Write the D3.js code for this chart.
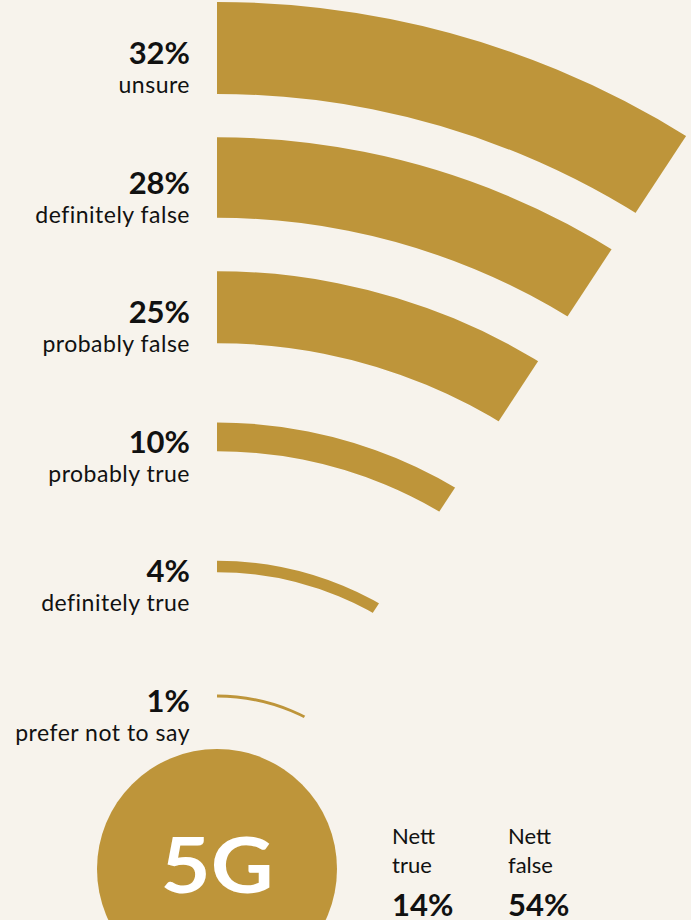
<!DOCTYPE html>
<html lang="en">
<head>
  <meta charset="UTF-8">
  <title>5G</title>
  <script src="https://cdn.jsdelivr.net/npm/d3@7"></script>
  <style>
    body { margin: 0; background: #f7f3ec; }
    text { font-family: Lato, "Noto Sans", sans-serif; fill: #111; }
  </style>
</head>
<body>
  <svg width="691" height="920"></svg>
  <script>
    // answers, outermost arc first
    var categories = ['unsure', 'definitely false', 'probably false', 'probably true', 'definitely true', 'prefer not to say'];
    var values = [32, 28, 25, 10, 4, 1];
    var nettLabels = [['Nett', 'true'], ['Nett', 'false']];
    var nettValues = [14, 54];

    var gold = '#be953a';
    var svg = d3.select('svg');
    var width = +svg.attr('width');
    var height = +svg.attr('height');

    svg.append('rect').attr('width', width).attr('height', height).attr('fill', '#f7f3ec');

    var cx = 217, cy = 890;
    var data = categories.map(function(c, i) { return {cat: c, v: values[i]}; });

    // radius of each band centre, thickness from the value
    var rScale = d3.scalePoint().domain(categories).range([842, 194]);
    var wScale = d3.scaleLinear().domain([0, 32]).range([0, 92]);

    var chart = svg.append('g').attr('transform', 'translate(' + cx + ',' + cy + ')');

    // arcs all end on one slanted line
    var cutAngle = 33.3 * Math.PI / 180;
    var apex = [0, -40];
    svg.append('clipPath').attr('id', 'wedge')
      .append('polygon')
      .attr('points', [
        apex,
        [0, -cy - 20],
        [apex[0] + 1400 * Math.sin(cutAngle), apex[1] - 1400 * Math.cos(cutAngle)]
      ].map(function(p) { return p.join(','); }).join(' '));

    var arc = d3.arc()
      .innerRadius(function(d) { return rScale(d.cat) - wScale(d.v) / 2; })
      .outerRadius(function(d) { return rScale(d.cat) + wScale(d.v) / 2; })
      .startAngle(0)
      .endAngle(45 * Math.PI / 180);

    chart.append('g').attr('clip-path', 'url(#wedge)')
      .selectAll('path').data(data).enter().append('path')
      .attr('d', arc)
      .attr('fill', gold);

    var labels = svg.append('g').selectAll('g').data(data).enter().append('g')
      .attr('transform', function(d) { return 'translate(190,' + (cy - rScale(d.cat) + 16) + ')'; });
    labels.append('text')
      .attr('text-anchor', 'end')
      .attr('font-size', 31).attr('font-weight', 700)
      .text(function(d) { return d.v + '%'; });
    labels.append('text')
      .attr('text-anchor', 'end')
      .attr('y', 29)
      .attr('font-size', 23)
      .attr('letter-spacing', 0.5)
      .text(function(d) { return d.cat; });

    // 5G badge
    svg.append('circle').attr('cx', cx).attr('cy', 869).attr('r', 120).attr('fill', gold);
    svg.append('text').attr('x', cx).attr('y', 893)
      .attr('text-anchor', 'middle')
      .attr('font-size', 76).attr('font-weight', 700)
      .attr('textLength', 113).attr('lengthAdjust', 'spacingAndGlyphs')
      .style('fill', '#fff')
      .text('5G');

    // nett totals
    var nett = svg.append('g').selectAll('g').data(nettValues).enter().append('g')
      .attr('transform', function(d, i) { return 'translate(' + (392 + i * 116) + ',844)'; });
    nett.selectAll('text.lbl').data(function(d, i) { return nettLabels[i]; }).enter().append('text')
      .attr('class', 'lbl')
      .attr('y', function(d, i) { return i * 28.5; })
      .attr('font-size', 22)
      .text(function(d) { return d; });
    nett.append('text')
      .attr('y', 72)
      .attr('font-size', 31).attr('font-weight', 700)
      .text(function(d) { return d + '%'; });
  </script>
</body>
</html>
